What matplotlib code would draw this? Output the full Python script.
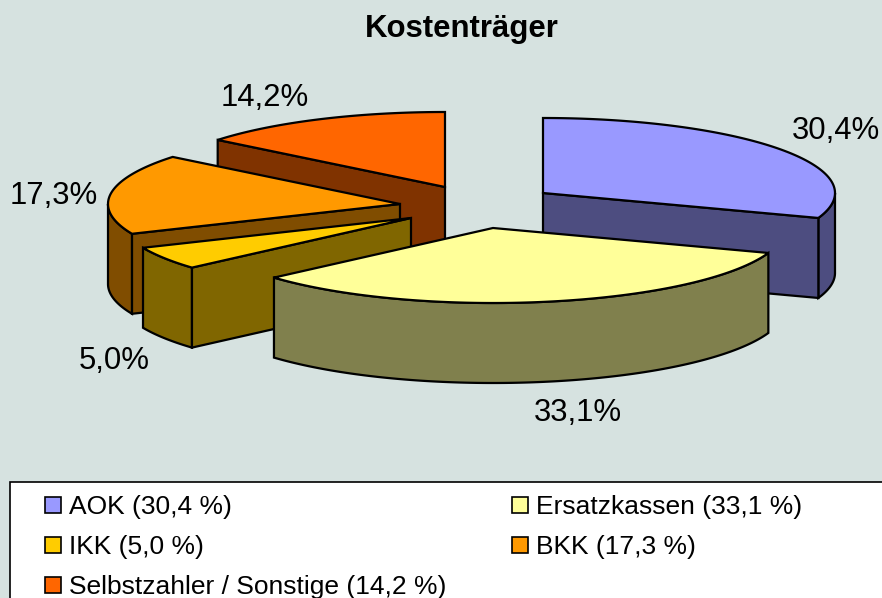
import matplotlib
matplotlib.use('Agg')
import matplotlib.pyplot as plt
import numpy as np
from matplotlib.patches import Polygon, Rectangle

plt.rcParams['font.family'] = ['Liberation Sans', 'DejaVu Sans']

names = ['AOK', 'Ersatzkassen', 'IKK', 'BKK', 'Selbstzahler / Sonstige']
values = [30.4, 33.1, 5.0, 17.3, 14.2]

top_colors = ['#9999FF', '#FFFF99', '#FFCC00', '#FF9900', '#FF6600']
side_colors = ['#4D4D80', '#80804D', '#806600', '#804D00', '#803300']
BG = '#D6E2E0'

# pie geometry in pixels, every slice is pulled out so it has its own apex
RX, RY, DEPTH = 292, 75, 80
apex = [(543, 193), (493, 228), (411, 218), (400, 204), (445, 187)]
label_pos = [(836, 131), (578, 413), (114, 361), (54, 196), (265, 98)]
draw_order = [4, 3, 2, 0, 1]


def rim(cx, cy, a, b):
    t = np.radians(np.linspace(a, b, max(int(abs(b - a) * 2), 2)))
    return np.column_stack([cx + RX * np.sin(t), cy - RY * np.cos(t)])


def wall(ax, pts, color):
    low = pts[::-1] + [0, DEPTH]
    ax.add_patch(Polygon(np.vstack([pts, low]), closed=True, fc=color, ec='black', lw=1.6))


def comma(v):
    return ('%.1f' % v).replace('.', ',')


fig = plt.figure(figsize=(8.82, 5.98), dpi=100, facecolor=BG)
ax = fig.add_axes([0, 0, 1, 1])
ax.set_xlim(0, 882)
ax.set_ylim(598, 0)
ax.axis('off')

ends = np.cumsum(values) * 3.6
starts = ends - np.array(values) * 3.6

for i in draw_order:
    cx, cy = apex[i]
    a, b = starts[i], ends[i]
    # outer wall, only the part that looks to the front
    lo, hi = max(a, 90), min(b, 270)
    if lo < hi:
        wall(ax, rim(cx, cy, lo, hi), side_colors[i])
    # cut faces
    if np.sin(np.radians(a)) < -1e-6:
        wall(ax, np.vstack([[cx, cy], rim(cx, cy, a, a + 0.01)[:1]]), side_colors[i])
    if np.sin(np.radians(b)) > 1e-6:
        wall(ax, np.vstack([[cx, cy], rim(cx, cy, b, b + 0.01)[:1]]), side_colors[i])
    ax.add_patch(Polygon(np.vstack([[cx, cy], rim(cx, cy, a, b)]), closed=True,
                         fc=top_colors[i], ec='black', lw=1.6))
    ax.text(label_pos[i][0], label_pos[i][1], comma(values[i]) + '%',
            ha='center', va='center', fontsize=22.4, color='black')

ax.text(462, 29, 'Kostenträger', ha='center', va='center', fontsize=22.4, fontweight='bold', color='black')

# legend box runs off the right and bottom of the picture
ax.add_patch(Rectangle((10, 482), 900, 140, fc='white', ec='black', lw=1.2))
legend_x = [45, 512, 45, 512, 45]
legend_y = [505, 505, 545, 545, 585]
for i, name in enumerate(names):
    ax.add_patch(Rectangle((legend_x[i], legend_y[i] - 8), 16, 16, fc=top_colors[i], ec='black', lw=1.2))
    ax.text(legend_x[i] + 24, legend_y[i] + 2, '%s (%s %%)' % (name, comma(values[i])),
            ha='left', va='center', fontsize=19, color='black')

fig.savefig('out.png', dpi=100, facecolor=BG)
